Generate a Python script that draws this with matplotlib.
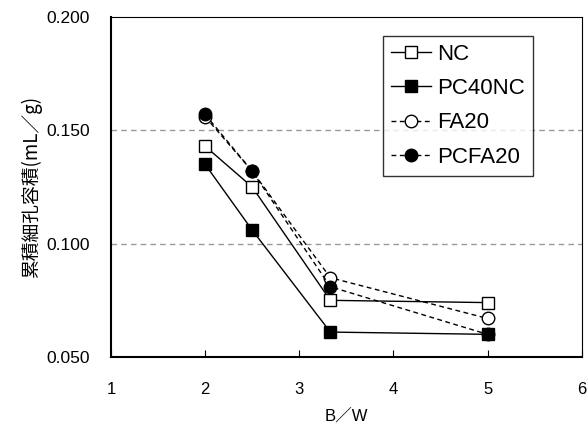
import matplotlib
matplotlib.use("Agg")
import matplotlib.pyplot as plt

plt.rcParams['font.family'] = ['Liberation Sans', 'Noto Sans CJK JP', 'DejaVu Sans']

bw = [2.0, 2.5, 3.33, 5.0]
nc = [0.143, 0.125, 0.075, 0.074]
pc40nc = [0.135, 0.106, 0.061, 0.060]
fa20 = [0.156, 0.132, 0.085, 0.067]
pcfa20 = [0.157, 0.132, 0.081, 0.060]
series_names = ["NC", "PC40NC", "FA20", "PCFA20"]
xticks = [1, 2, 3, 4, 5, 6]
yticks = [0.050, 0.100, 0.150, 0.200]
ytick_labels = ["0.050", "0.100", "0.150", "0.200"]

fig = plt.figure(figsize=(5.87, 4.24), dpi=100)
ax = fig.add_axes([0.189, 0.158, 0.802, 0.802])

ms = 9
dash = (0, (3.5, 2.5))
ax.plot(bw, nc, color='black', lw=1.0, ls='-', marker='s', ms=ms,
        mfc='white', mec='black', mew=1.0, label=series_names[0], zorder=3)
ax.plot(bw, pc40nc, color='black', lw=1.0, ls='-', marker='s', ms=ms,
        mfc='black', mec='black', mew=1.0, label=series_names[1], zorder=3)
ax.plot(bw, fa20, color='black', lw=1.0, ls=dash, marker='o', ms=ms,
        mfc='white', mec='black', mew=1.0, label=series_names[2], zorder=3)
ax.plot(bw, pcfa20, color='black', lw=1.0, ls=dash, marker='o', ms=ms,
        mfc='black', mec='black', mew=1.0, label=series_names[3], zorder=3)

ax.set_xlim(1, 6)
ax.set_ylim(0.050, 0.200)
ax.set_xticks(xticks)
ax.set_yticks(yticks)
ax.set_yticklabels(ytick_labels)

for y in [0.100, 0.150]:
    ax.axhline(y, color='#999999', lw=1.0, ls=(0, (4, 3)), zorder=1)

ax.tick_params(axis='x', direction='in', length=5, pad=18, labelsize=12)
ax.tick_params(axis='y', direction='in', length=0, pad=15, labelsize=12.5)

ax.spines['left'].set_linewidth(1.5)
ax.spines['bottom'].set_linewidth(1.5)
ax.spines['top'].set_linewidth(0.8)
ax.spines['right'].set_linewidth(0.8)

ax.set_xlabel("B／W", fontsize=12, labelpad=8)
ax.set_ylabel("累積細孔容積(mL／g)", fontsize=13.5, labelpad=3,
              family=['Noto Sans CJK JP', 'DejaVu Sans'])

leg = ax.legend(loc='upper left', bbox_to_anchor=(0.5775, 0.944), fontsize=16,
                frameon=True, fancybox=False, edgecolor='black',
                handlelength=1.8, handletextpad=0.3, borderpad=0.35,
                labelspacing=0.6, borderaxespad=0)
leg.get_frame().set_linewidth(1.0)

fig.savefig("out.png", dpi=100)
